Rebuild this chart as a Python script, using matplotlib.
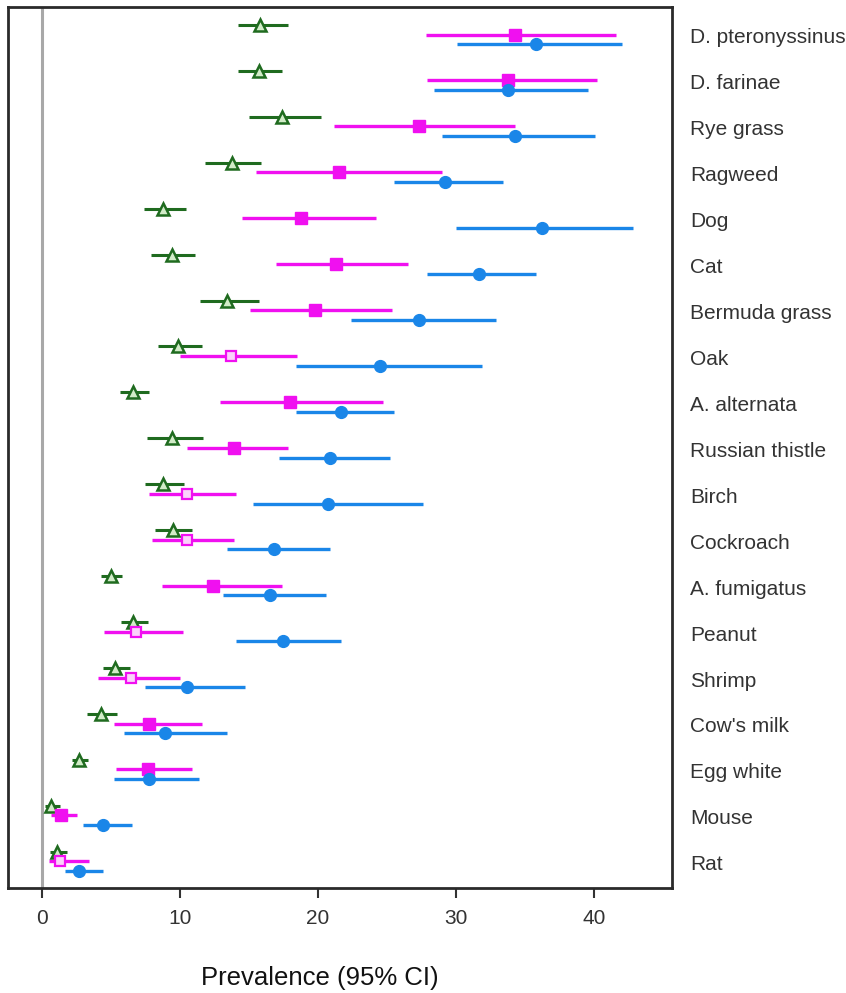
import matplotlib
matplotlib.use("Agg")
import matplotlib.pyplot as plt
import numpy as np

plt.rcParams['font.family'] = ['Liberation Sans', 'DejaVu Sans']

allergens = ["D. pteronyssinus", "D. farinae", "Rye grass", "Ragweed", "Dog", "Cat",
             "Bermuda grass", "Oak", "A. alternata", "Russian thistle", "Birch",
             "Cockroach", "A. fumigatus", "Peanut", "Shrimp", "Cow's milk",
             "Egg white", "Mouse", "Rat"]

# green series (triangles)
green_est = [15.8, 15.7, 17.4, 13.75, 8.8, 9.4, 13.4, 9.9, 6.6, 9.45, 8.8, 9.5, 5.0, 6.6, 5.3, 4.3, 2.7, 0.7, 1.1]
green_lo = [14.2, 14.2, 15.0, 11.85, 7.4, 7.9, 11.45, 8.4, 5.65, 7.6, 7.5, 8.2, 4.3, 5.7, 4.4, 3.3, 2.15, 0.2, 0.6]
green_hi = [17.8, 17.4, 20.2, 15.85, 10.45, 11.1, 15.7, 11.6, 7.75, 11.7, 10.3, 10.9, 5.8, 7.7, 6.4, 5.45, 3.35, 1.3, 1.8]

# magenta series (squares)
mag_est = [34.3, 33.8, 27.3, 21.5, 18.8, 21.3, 19.8, 13.7, 18.0, 13.9, 10.5, 10.55, 12.4, 6.85, 6.45, 7.8, 7.7, 1.4, 1.3]
mag_lo = [27.8, 27.9, 21.2, 15.5, 14.5, 17.0, 15.1, 10.0, 12.9, 10.55, 7.75, 7.95, 8.7, 4.5, 4.1, 5.2, 5.35, 0.7, 0.5]
mag_hi = [41.6, 40.2, 34.3, 29.0, 24.2, 26.5, 25.4, 18.5, 24.7, 17.85, 14.1, 13.9, 17.4, 10.2, 10.0, 11.6, 10.85, 2.55, 3.45]
mag_hollow = [False, False, False, False, False, False, False, True, False, False, True,
              True, False, True, True, False, False, False, True]

# blue series (circles)
blue_est = [35.8, 33.8, 34.3, 29.2, 36.2, 31.7, 27.3, 24.5, 21.7, 20.9, 20.7, 16.8, 16.5, 17.5, 10.55, 8.95, 7.75, 4.45, 2.7]
blue_lo = [30.1, 28.4, 29.0, 25.5, 30.0, 27.9, 22.4, 18.4, 18.4, 17.2, 15.3, 13.4, 13.1, 14.1, 7.5, 5.95, 5.2, 3.0, 1.7]
blue_hi = [42.0, 39.6, 40.1, 33.4, 42.8, 35.8, 32.9, 31.9, 25.5, 25.2, 27.6, 20.9, 20.6, 21.7, 14.7, 13.4, 11.4, 6.55, 4.4]

GREEN_LINE = '#1f6b1f'
GREEN_FACE = '#d2ecc8'
MAGENTA = '#f010f0'
BLUE = '#1a86e8'

fig = plt.figure(figsize=(8.46, 9.93), dpi=100)
ax = fig.add_axes([8 / 846, 1 - 888 / 993, (672 - 8) / 846, (888 - 7) / 993])

n = len(allergens)
base = np.arange(n)[::-1].astype(float)

ax.axvline(0, color='#a8a8a8', lw=2.2, zorder=1)

for i in range(n):
    y = base[i]
    # green
    yg = y + 0.24
    ax.plot([green_lo[i], green_hi[i]], [yg, yg], color=GREEN_LINE, lw=2.2,
            solid_capstyle='butt', zorder=2)
    ax.plot(green_est[i], yg, marker='^', ms=9, mfc=GREEN_FACE, mec=GREEN_LINE,
            mew=1.8, zorder=5)
    # magenta
    ym = y + 0.03
    ax.plot([mag_lo[i], mag_hi[i]], [ym, ym], color=MAGENTA, lw=2.4,
            solid_capstyle='butt', zorder=3)
    if mag_hollow[i]:
        ax.plot(mag_est[i], ym, marker='s', ms=7.5, mfc='#fbd2fb', mec=MAGENTA,
                mew=1.6, zorder=6)
    else:
        ax.plot(mag_est[i], ym, marker='s', ms=8, mfc=MAGENTA, mec=MAGENTA,
                mew=1, zorder=6)
    # blue
    yb = y - 0.18
    ax.plot([blue_lo[i], blue_hi[i]], [yb, yb], color=BLUE, lw=2.4,
            solid_capstyle='butt', zorder=3)
    ax.plot(blue_est[i], yb, marker='o', ms=8.5, mfc=BLUE, mec=BLUE, mew=1, zorder=6)

ax.set_xlim(-2.45, 45.65)
ax.set_ylim(-0.55, n - 1 + 0.63)

ax.set_xticks([0, 10, 20, 30, 40])
ax.tick_params(axis='x', direction='out', length=7, width=1.5, color='#333333',
               labelsize=15, labelcolor='#333333', pad=8)

ax.yaxis.tick_right()
ax.set_yticks(base)
ax.set_yticklabels(allergens)
ax.tick_params(axis='y', length=0, labelsize=15, labelcolor='#333333', pad=13)

for s in ax.spines.values():
    s.set_color('#2a2a2a')
    s.set_linewidth(2)

fig.text(320 / 846, 1 - 978 / 993, "Prevalence (95% CI)", ha='center', va='center',
         fontsize=18.5, color='#111111')

fig.savefig("out.png", dpi=100)
